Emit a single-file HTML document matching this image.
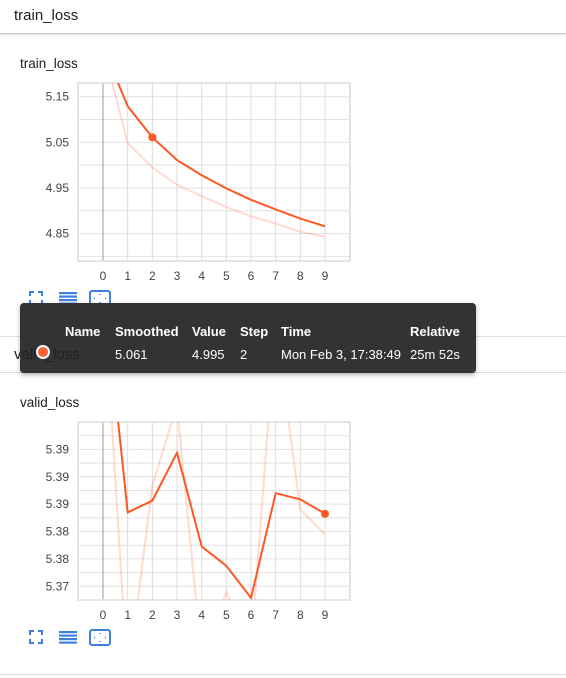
<!DOCTYPE html>
<html><head><meta charset="utf-8"><style>
body{margin:0;width:566px;height:678px;overflow:hidden;background:#fff;font-family:"Liberation Sans",Roboto,sans-serif;position:relative}
.abs{position:absolute}
</style></head><body>
<div class="abs" style="left:0;top:0;width:566px;height:33px;border-bottom:1px solid #ccc;box-shadow:0 1px 2px rgba(0,0,0,.15)"></div>
<div class="abs" style="left:14px;top:7px;font-size:15px;color:#212121">train_loss</div>
<div class="abs" style="left:20px;top:56px;font-size:13.5px;color:#212121">train_loss</div>
<div class="abs" style="left:0;top:336px;width:566px;height:1px;background:#ddd"></div>
<div class="abs" style="left:0;top:372px;width:566px;height:1px;background:#ddd"></div>
<div class="abs" style="left:20px;top:395px;font-size:13.5px;color:#212121">valid_loss</div>
<div class="abs" style="left:0;top:674px;width:566px;height:1px;background:#ddd"></div>
<svg class="abs" style="left:0;top:0" width="566" height="678" id="svg"></svg>
<div class="abs" style="left:20px;top:303px;width:456px;height:70px;background:#333;border-radius:4px;box-shadow:0 2px 4px rgba(0,0,0,.3);color:#fff;font-size:13px">
 <div class="abs" style="left:45px;top:21px;font-weight:bold">Name</div>
 <div class="abs" style="left:95px;top:21px;font-weight:bold">Smoothed</div>
 <div class="abs" style="left:172px;top:21px;font-weight:bold">Value</div>
 <div class="abs" style="left:220px;top:21px;font-weight:bold">Step</div>
 <div class="abs" style="left:261px;top:21px;font-weight:bold">Time</div>
 <div class="abs" style="left:390px;top:21px;font-weight:bold">Relative</div>
 <div class="abs" style="left:95px;top:44px">5.061</div>
 <div class="abs" style="left:172px;top:44px">4.995</div>
 <div class="abs" style="left:220px;top:44px">2</div>
 <div class="abs" style="left:261px;top:44px">Mon Feb 3, 17:38:49</div>
 <div class="abs" style="left:390px;top:44px">25m 52s</div>
</div>
<div class="abs" style="left:14px;top:346px;font-size:15px;color:#212121;z-index:2">valid_loss</div>
<div class="abs" style="left:36px;top:345px;width:14px;height:14px;border-radius:50%;background:#ff5f37;border:2px solid #fff;box-sizing:border-box;z-index:3"></div>
<script>
const steps=[0,1,2,3,4,5,6,7,8,9];
const trainRaw=[5.26,5.048,4.995,4.957,4.932,4.908,4.888,4.872,4.854,4.843];
const trainSmooth=[5.26,5.129,5.061,5.011,4.978,4.949,4.924,4.903,4.883,4.866];
const trainTicks=[5.15,5.05,4.95,4.85];
const trainTickLabels=["5.15","5.05","4.95","4.85"];
const validRaw=[5.418,5.3593,5.3877,5.3995,5.3623,5.3722,5.3638,5.4111,5.3842,5.3806];
const validSmooth=[5.418,5.3838,5.3855,5.3925,5.3788,5.3760,5.3713,5.3866,5.3857,5.3836];
const validTicks=[5.393,5.389,5.385,5.381,5.377,5.373];
const validTickLabels=["5.39","5.39","5.39","5.38","5.38","5.37"];
const NS="http://www.w3.org/2000/svg";
const svg=document.getElementById('svg');
function mk(t,a,p){const e=document.createElementNS(NS,t);for(const k in a)e.setAttribute(k,a[k]);(p||svg).appendChild(e);return e;}
function chart(id,top,bottom,yTop,yBot,ticks,labels,raw,sm,hl){
 const L=78,R=350;
 const x=s=>103+s*(325-103)/9;
 const y=v=>top+(yTop-v)/(yTop-yBot)*(bottom-top);
 const g=mk('g',{});
 
 
 const step=(y(ticks[1])-y(ticks[0]))/2;
 for(let yy=y(ticks[0])-Math.floor((y(ticks[0])-top)/step)*step;yy<bottom;yy+=step){
  mk('line',{x1:L,x2:R,y1:yy,y2:yy,stroke:'#e2e2e2','stroke-width':1},g);}
 for(let s=-1;s<=10;s++){const xx=x(s);if(xx>L&&xx<R)mk('line',{x1:xx,x2:xx,y1:top,y2:bottom,stroke:s==0?'#999':'#ddd','stroke-width':1},g);}
 mk('rect',{x:L,y:top,width:R-L,height:bottom-top,fill:'none',stroke:'#ddd','stroke-width':1.5},g);
 ticks.forEach((t,i)=>{const tx=mk('text',{x:69,y:y(t)+4,'text-anchor':'end','font-size':12,fill:'#444'},g);tx.textContent=labels[i];
  
  });
 steps.forEach(s=>{const tx=mk('text',{x:x(s),y:bottom+19,'text-anchor':'middle','font-size':12,fill:'#444'},g);tx.textContent=s;
  
  });
 const cp=mk('clipPath',{id:id+'clip'},g);
 mk('rect',{x:L,y:top,width:R-L,height:bottom-top},cp);
 const d=a=>a.map((v,i)=>(i?'L':'M')+x(steps[i]).toFixed(1)+','+y(v).toFixed(1)).join('');
 const pr=mk('path',{d:d(raw),fill:'none',stroke:'#ff7043','stroke-opacity':0.25,'stroke-width':2,'clip-path':`url(#${id}clip)`},g);
 
 
 const ps=mk('path',{d:d(sm),fill:'none',stroke:'#ff5722','stroke-width':2,'clip-path':`url(#${id}clip)`},g);
 
 
 const c=mk('circle',{cx:x(hl),cy:y(sm[hl]),r:4,fill:'#ff5722'},g);
 
 
 const iy=bottom+31;
 const ic=mk('g',{},g);
 
 
 const b='#3f7fe0';
 mk('path',{d:`M30 ${iy+4}v-4h4M38 ${iy}h4v4M42 ${iy+8}v4h-4M34 ${iy+12}h-4v-4`,fill:'none',stroke:b,'stroke-width':2},ic);
 for(let k=0;k<4;k++)mk('rect',{x:59,y:iy+k*3.5,width:18,height:2.2,fill:b},ic);
 mk('rect',{x:90,y:iy-1,width:20,height:15,rx:2,fill:'none',stroke:b,'stroke-width':2},ic);
 mk('path',{d:`M100 ${iy+2}v1M100 ${iy+10}v1M94 ${iy+6.5}h1M105 ${iy+6.5}h1`,stroke:b,'stroke-width':1.5},ic);
}
chart('train',83,261,5.18,4.79,trainTicks,trainTickLabels,trainRaw,trainSmooth,2);
chart('valid',422,600,5.397,5.371,validTicks,validTickLabels,validRaw,validSmooth,9);
</script>
</body></html>
